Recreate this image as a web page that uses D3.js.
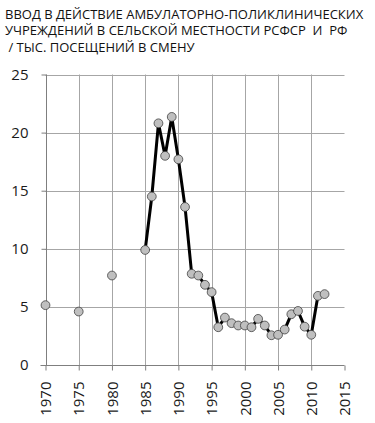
<!DOCTYPE html>
<html>
<head>
<meta charset="utf-8">
<script src="https://cdn.jsdelivr.net/npm/d3@7"></script>
<style>
  html, body { margin: 0; padding: 0; background: #fff; }
  svg { display: block; }
</style>
</head>
<body>
<div id="chart"></div>
<script>
// title lines
const titleLines = [
    "ВВОД В ДЕЙСТВИЕ АМБУЛАТОРНО-ПОЛИКЛИНИЧЕСКИХ",
    "УЧРЕЖДЕНИЙ В СЕЛЬСКОЙ МЕСТНОСТИ РСФСР  И  РФ",
    " / ТЫС. ПОСЕЩЕНИЙ В СМЕНУ"
];

// isolated points (no line)
const soloYears = [1970, 1975, 1980];
const soloValues = [5.15, 4.6, 7.7];

// connected series
const lineYears = [1985, 1986, 1987, 1988, 1989, 1990, 1991, 1992, 1993, 1994, 1995,
    1996, 1997, 1998, 1999, 2000, 2001, 2002, 2003, 2004, 2005, 2006, 2007, 2008,
    2009, 2010, 2011, 2012];
const lineValues = [9.9, 14.5, 20.8, 18.0, 21.35, 17.7, 13.6, 7.85, 7.7, 6.9, 6.27,
    3.25, 4.08, 3.6, 3.4, 3.4, 3.25, 3.97, 3.4, 2.56, 2.6, 3.05, 4.37, 4.65,
    3.3, 2.6, 5.95, 6.1];

const xTicks = [1970, 1975, 1980, 1985, 1990, 1995, 2000, 2005, 2010, 2015];
const yTicks = [0, 5, 10, 15, 20, 25];

const width = 375, height = 423;
const font = "'Open Sans', sans-serif";

const svg = d3.select("#chart").append("svg")
    .attr("width", width)
    .attr("height", height);

// title
svg.append("g").selectAll("text")
    .data(titleLines)
    .join("text")
    .attr("x", 5)
    .attr("y", (d, i) => 18.5 + i * 16.8)
    .attr("font-family", font)
    .attr("font-size", 13)
    .attr("fill", "#111")
    .style("white-space", "pre")
    .text(d => d);

const x = d3.scaleLinear().domain([1970, 2015]).range([45.5, 344.5]);
const y = d3.scaleLinear().domain([0, 25]).range([365, 74.5]);

// grid
svg.append("g").selectAll("line")
    .data(yTicks.filter(d => d > 0))
    .join("line")
    .attr("x1", x(1970)).attr("x2", x(2015))
    .attr("y1", d => Math.round(y(d)) + 0.5).attr("y2", d => Math.round(y(d)) + 0.5)
    .attr("stroke", "#a6a6a6");

svg.append("g").selectAll("line")
    .data(xTicks.filter(d => d > 1970 && d < 2015))
    .join("line")
    .attr("x1", d => Math.round(x(d)) + 0.5).attr("x2", d => Math.round(x(d)) + 0.5)
    .attr("y1", y(25)).attr("y2", y(0))
    .attr("stroke", "#a6a6a6");

// axes
const yAxis = svg.append("g")
    .attr("transform", `translate(${Math.round(x(1970)) + 0.5},0)`)
    .call(d3.axisLeft(y).tickValues(yTicks).tickSize(5).tickPadding(13));
const xAxis = svg.append("g")
    .attr("transform", `translate(0,${Math.round(y(0)) + 0.5})`)
    .call(d3.axisBottom(x).tickValues(xTicks).tickSize(5).tickFormat(d3.format("d")));

[yAxis, xAxis].forEach(a => {
    a.select(".domain").attr("stroke", "#7f7f7f");
    a.selectAll(".tick line").attr("stroke", "#7f7f7f");
    a.selectAll("text")
        .attr("font-family", font)
        .attr("font-size", 15)
        .attr("fill", "#1a1a1a");
});
yAxis.select(".domain").attr("d", `M0,${y(25)}V${y(0)}`);
xAxis.select(".domain").attr("d", `M${x(1970) - 5},0H${x(2015)}`);

xAxis.selectAll("text")
    .attr("transform", "rotate(-90)")
    .attr("text-anchor", "end")
    .attr("x", -16)
    .attr("y", 0)
    .attr("dy", "0.35em");

// line
svg.append("path")
    .datum(lineYears.map((d, i) => [d, lineValues[i]]))
    .attr("fill", "none")
    .attr("stroke", "#000")
    .attr("stroke-width", 3)
    .attr("stroke-linejoin", "round")
    .attr("d", d3.line().x(d => x(d[0])).y(d => y(d[1])));

// markers
const pts = soloYears.map((d, i) => [d, soloValues[i]])
    .concat(lineYears.map((d, i) => [d, lineValues[i]]));
svg.append("g").selectAll("circle")
    .data(pts)
    .join("circle")
    .attr("cx", d => x(d[0]))
    .attr("cy", d => y(d[1]))
    .attr("r", 4.4)
    .attr("fill", "#bfbfbf")
    .attr("stroke", "#404040")
    .attr("stroke-width", 0.8);
</script>
</body>
</html>
